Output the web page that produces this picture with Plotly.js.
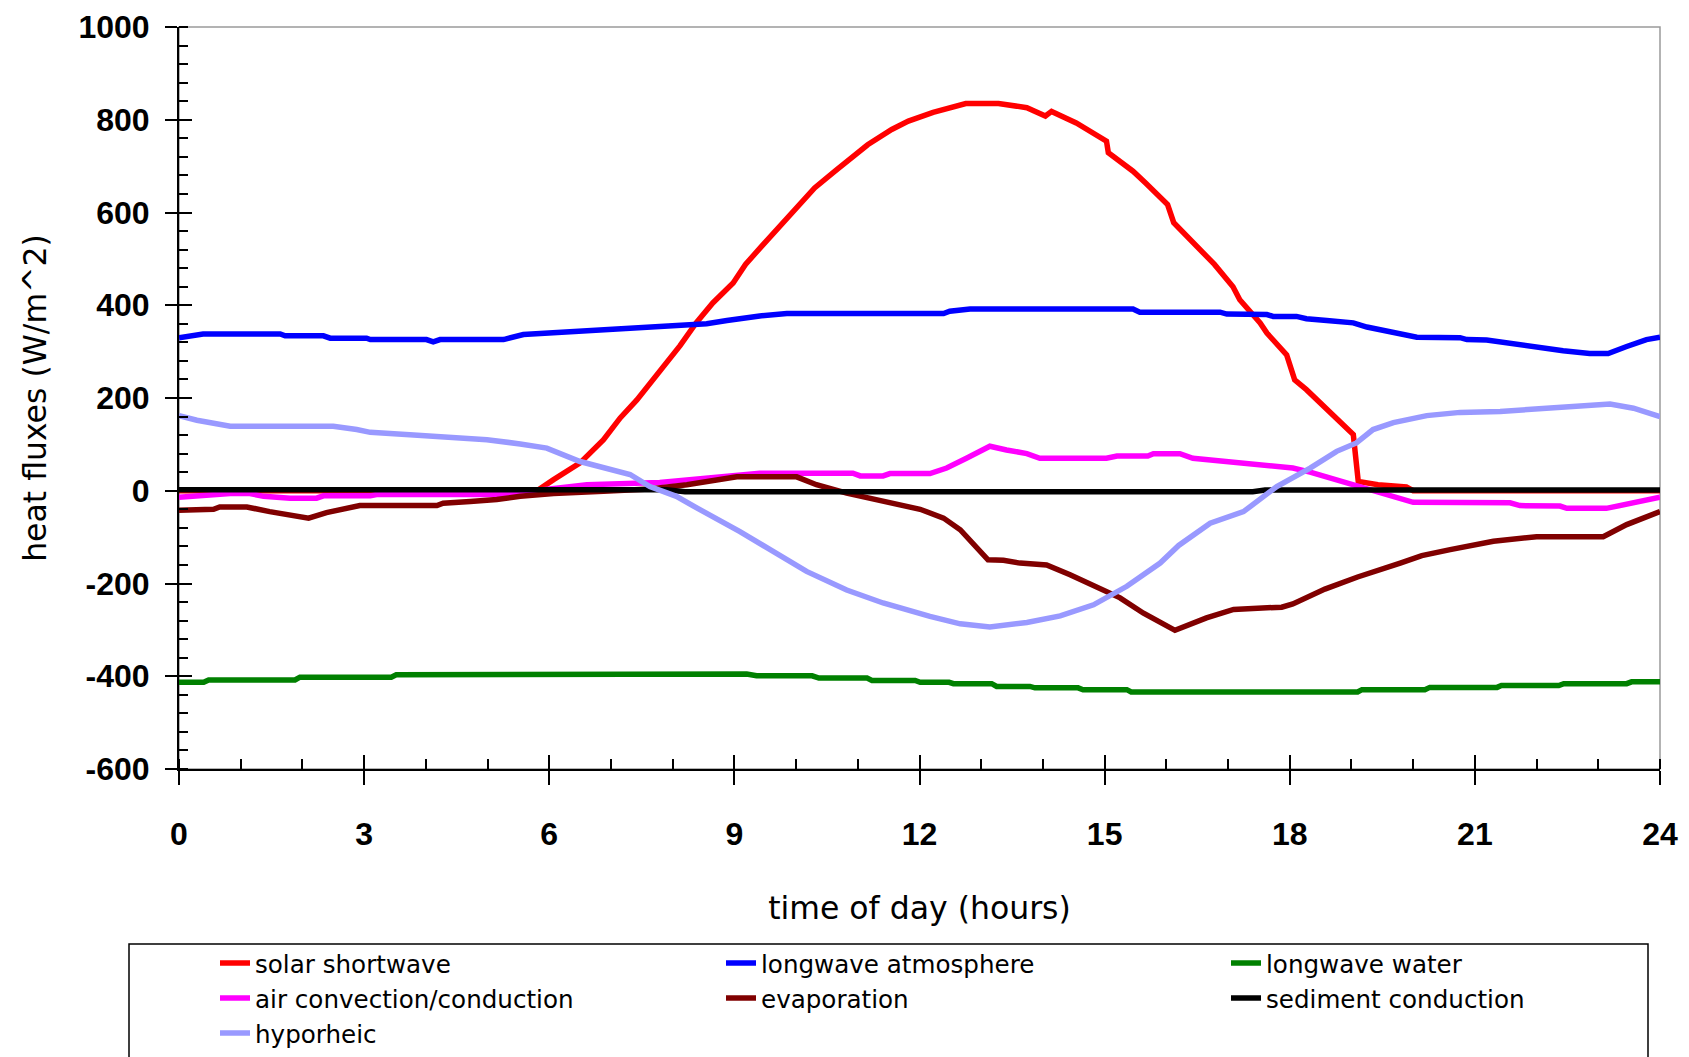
<!DOCTYPE html>
<html>
<head>
<meta charset="utf-8">
<script src="https://cdn.plot.ly/plotly-3.0.1.min.js"></script>
<style>html,body{margin:0;padding:0;background:#fff;}#chart{width:1689px;height:1057px;}</style>
</head>
<body>
<div id="chart"></div>
<script>
// ---- data (hours of day, heat flux W/m^2) ----
const solarHours = [0, 5.8, 6.07, 6.5, 6.88, 7.15, 7.42, 7.79, 7.96, 8.12, 8.38, 8.65, 8.98, 9.18, 9.44, 9.71, 10.1, 10.3, 10.63, 10.83, 11.16, 11.55, 11.82, 12.22, 12.75, 13.28, 13.74, 14.04, 14.14, 14.54, 15.03, 15.06, 15.46, 15.66, 16.02, 16.12, 16.78, 17.08, 17.19, 17.52, 17.63, 17.95, 18.08, 18.27, 18.6, 18.81, 19.03, 19.11, 19.43, 19.89, 20.0, 24];
const solarFlux = [0, 0, 24, 60, 110, 157, 196, 258, 288, 313, 362, 405, 448, 488, 527, 567, 621, 653, 689, 710, 746, 779, 797, 816, 835, 835, 826, 808, 818, 793, 754, 729, 689, 664, 617, 578, 488, 440, 412, 362, 340, 293, 239, 218, 175, 146, 121, 20, 13, 8, 0, 0];

const atmHours = [0, 0.39, 1.64, 1.72, 2.34, 2.45, 3.04, 3.1, 4.01, 4.12, 4.23, 5.26, 5.58, 5.96, 6.44, 6.88, 7.63, 8.17, 8.55, 8.88, 9.41, 9.85, 12.39, 12.49, 12.82, 15.46, 15.57, 16.87, 16.98, 17.63, 17.73, 18.11, 18.27, 18.6, 19.03, 19.25, 19.68, 20.06, 20.76, 20.87, 21.19, 21.51, 22.16, 22.43, 22.86, 23.16, 23.46, 23.78, 24];
const atmFlux = [330, 338, 338, 334, 334, 329, 329, 326, 326, 321, 326, 326, 337, 340, 344, 347, 353, 355, 360, 367, 377, 382, 382, 387, 392, 392, 385, 385, 381, 380, 376, 376, 371, 367, 362, 353, 342, 331, 330, 326, 325, 319, 306, 302, 296, 296, 311, 326, 331];

const waterHours = [0, 0.4, 0.48, 1.88, 1.96, 3.44, 3.52, 4.99, 5.15, 9.2, 9.36, 10.26, 10.37, 11.15, 11.23, 11.93, 12.01, 12.48, 12.55, 13.17, 13.25, 13.79, 13.87, 14.57, 14.65, 15.36, 15.43, 19.1, 19.17, 20.19, 20.27, 21.36, 21.43, 22.36, 22.44, 23.46, 23.54, 24];
const waterFlux = [-413, -413, -408, -408, -402, -402, -397, -397, -395, -395, -399, -399, -404, -404, -409, -409, -413, -413, -416, -416, -422, -422, -425, -425, -429, -429, -434, -434, -429, -429, -424, -424, -420, -420, -416, -416, -412, -412];

const airHours = [0, 0.83, 1.15, 1.37, 1.8, 2.23, 2.34, 3.1, 3.2, 5.2, 5.69, 6.61, 7.79, 8.33, 8.98, 9.41, 10.92, 11.04, 11.41, 11.52, 12.17, 12.44, 12.76, 13.14, 13.41, 13.74, 13.95, 15.03, 15.2, 15.7, 15.79, 16.22, 16.43, 16.98, 17.63, 18.05, 18.33, 18.71, 19.03, 19.57, 20.0, 21.57, 21.73, 22.38, 22.49, 23.13, 23.46, 24];
const airFlux = [-14, -6, -6, -12, -16, -16, -11, -11, -8, -8, -1, 13, 18, 25, 34, 38, 38, 32, 32, 37, 37, 49, 70, 96, 88, 80, 70, 70, 75, 75, 80, 80, 70, 63, 56, 49, 40, 25, 15, -9, -25, -26, -32, -33, -38, -38, -29, -14];

const evapHours = [0, 0.56, 0.66, 1.1, 1.47, 1.8, 2.1, 2.39, 2.93, 4.18, 4.28, 4.72, 5.15, 5.53, 6.07, 6.88, 7.63, 8.23, 9.04, 10.01, 10.33, 10.82, 11.31, 12.01, 12.39, 12.66, 13.11, 13.36, 13.63, 14.06, 14.44, 14.87, 15.25, 15.63, 16.14, 16.65, 17.09, 17.87, 18.05, 18.57, 19.1, 19.79, 20.14, 20.6, 21.3, 22.0, 23.08, 23.46, 24];
const evapFlux = [-42, -40, -35, -35, -45, -52, -59, -47, -32, -32, -27, -23, -19, -12, -6, -1, 4, 13, 30, 30, 13, -5, -19, -40, -59, -84, -149, -150, -156, -160, -181, -206, -231, -264, -301, -274, -256, -251, -244, -212, -186, -156, -140, -127, -109, -99, -99, -73, -45];

const sedHours = [0, 7.9, 8.2, 17.4, 17.6, 24];
const sedFlux = [2, 2, -2, -2, 1.5, 1.5];

const hypoHours = [0, 0.29, 0.83, 2.5, 2.88, 3.1, 3.74, 4.34, 4.99, 5.53, 5.96, 6.5, 7.31, 7.63, 8.06, 8.39, 8.71, 9.09, 9.58, 10.17, 10.82, 11.41, 12.17, 12.66, 13.14, 13.74, 14.28, 14.82, 15.36, 15.9, 16.2, 16.71, 17.25, 17.79, 18.33, 18.76, 19.08, 19.35, 19.68, 20.22, 20.76, 21.41, 22.16, 22.65, 23.19, 23.57, 24];
const hypoFlux = [162, 152, 139, 139, 132, 126, 121, 117, 110, 101, 92, 63, 35, 9, -12, -37, -59, -88, -127, -174, -214, -242, -271, -287, -294, -284, -270, -246, -206, -156, -118, -70, -45, 9, 49, 85, 103, 132, 147, 162, 169, 171, 178, 182, 187, 178, 160];

const seriesNames = ['solar shortwave', 'longwave atmosphere', 'longwave water', 'air convection/conduction', 'evaporation', 'sediment conduction', 'hyporheic'];
const xTickVals = [0, 3, 6, 9, 12, 15, 18, 21, 24];
const xTickText = ['0', '3', '6', '9', '12', '15', '18', '21', '24'];
const yTickVals = [-600, -400, -200, 0, 200, 400, 600, 800, 1000];
const yTickText = ['-600', '-400', '-200', '0', '200', '400', '600', '800', '1000'];

// ---- styling ----
const colors = ['#ff0000', '#0000ff', '#008000', '#ff00ff', '#800000', '#000000', '#9999ff'];
const legendOf = ['legend', 'legend2', 'legend3', 'legend', 'legend2', 'legend3', 'legend'];
const xs = [solarHours, atmHours, waterHours, airHours, evapHours, sedHours, hypoHours];
const ys = [solarFlux, atmFlux, waterFlux, airFlux, evapFlux, sedFlux, hypoFlux];

const traces = seriesNames.map((name, i) => ({
  type: 'scatter', mode: 'lines', name: name,
  x: xs[i], y: ys[i],
  line: {color: colors[i], width: 5.5},
  legend: legendOf[i],
  xaxis: 'x', yaxis: 'y', hoverinfo: 'skip'
}));

const tickFont = {family: 'Liberation Sans, Arial, sans-serif', size: 32, weight: 'bold', color: '#000'};
const titleFont = {family: 'DejaVu Sans, Verdana, sans-serif', size: 31.5, color: '#000'};
const legFont = {family: 'DejaVu Sans, Verdana, sans-serif', size: 24.6, color: '#000'};

const L = 179, R = 1660, T = 27, B = 769;
const pw = R - L, ph = B - T;
const px = X => (X - L) / pw;
const py = Y => (B - Y) / ph;

const legendBase = {orientation: 'v', bgcolor: 'rgba(0,0,0,0)', borderwidth: 0, font: legFont,
  xanchor: 'left', yanchor: 'top', y: py(940.5), traceorder: 'normal', itemclick: false};

const layout = {
  width: 1689, height: 1057,
  paper_bgcolor: '#fff', plot_bgcolor: '#fff',
  margin: {l: L, r: 1689 - R, t: T, b: 1057 - B, autoexpand: false},
  showlegend: true,
  xaxis: {
    range: [0, 24], tickvals: xTickVals, ticktext: xTickText, ticks: 'outside', ticklen: 14, tickwidth: 2, tickcolor: '#000',
    showline: true, linecolor: '#000', linewidth: 2, showgrid: false, zeroline: false,
    tickfont: tickFont, ticklabelstandoff: 22,
    minor: {dtick: 1, tick0: 0, ticks: 'inside', ticklen: 10, tickwidth: 2, tickcolor: '#000', showgrid: false},
    title: {text: 'time of day (hours)', font: titleFont, standoff: 46},
    automargin: true, fixedrange: true
  },
  yaxis: {
    range: [-600, 1000], tickvals: yTickVals, ticktext: yTickText, ticks: 'outside', ticklen: 12, tickwidth: 2, tickcolor: '#000',
    showline: true, linecolor: '#000', linewidth: 2, showgrid: false, zeroline: false,
    tickfont: tickFont, ticklabelstandoff: 9,
    minor: {dtick: 40, tick0: 0, ticks: 'inside', ticklen: 9, tickwidth: 2, tickcolor: '#000', showgrid: false},
    title: {text: 'heat fluxes (W/m^2)', font: titleFont, standoff: 22},
    automargin: true, fixedrange: true
  },
  xaxis2: {overlaying: 'x', anchor: 'y', side: 'bottom', range: [0, 24], tickvals: xTickVals,
    ticks: 'inside', ticklen: 14, tickwidth: 2, tickcolor: '#000', showticklabels: false,
    showline: false, showgrid: false, zeroline: false, fixedrange: true},
  yaxis2: {overlaying: 'y', anchor: 'x', side: 'left', range: [-600, 1000], tickvals: yTickVals,
    ticks: 'inside', ticklen: 13, tickwidth: 2, tickcolor: '#000', showticklabels: false,
    showline: false, showgrid: false, zeroline: false, fixedrange: true},
  legend: Object.assign({}, legendBase, {x: px(215)}),
  legend2: Object.assign({}, legendBase, {x: px(721)}),
  legend3: Object.assign({}, legendBase, {x: px(1226)}),
  shapes: [
    {type: 'rect', xref: 'paper', yref: 'paper', x0: 0, x1: 1, y0: 0, y1: 1,
     line: {color: '#9a9a9a', width: 1.5}, layer: 'below'},
    {type: 'rect', xref: 'paper', yref: 'paper', x0: px(129), x1: px(1648), y0: py(944), y1: py(1075),
     line: {color: '#000', width: 1.5}, layer: 'below'}
  ]
};

// invisible trace so the overlay tick axes are rendered
traces.push({type: 'scatter', mode: 'lines', x: [0, 24], y: [0, 0], xaxis: 'x2', yaxis: 'y2',
  line: {width: 0, color: 'rgba(0,0,0,0)'}, showlegend: false, hoverinfo: 'skip'});

Plotly.newPlot('chart', traces, layout, {displayModeBar: false, staticPlot: true});
</script>
</body>
</html>
